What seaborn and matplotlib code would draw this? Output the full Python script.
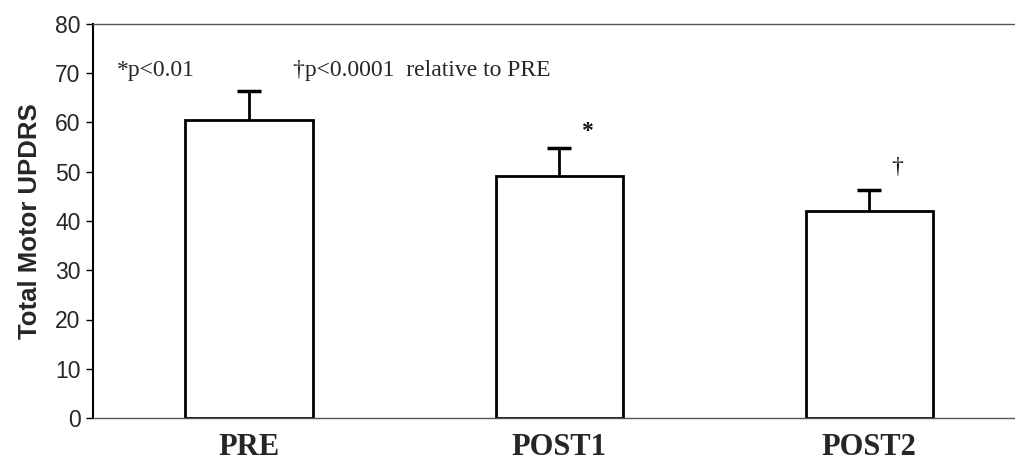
import matplotlib
matplotlib.use("Agg")
import matplotlib.pyplot as plt
import seaborn as sns
import numpy as np
import pandas as pd

# Total motor UPDRS at each assessment (mean and upper error)
categories = ["PRE", "POST1", "POST2"]
means = [60.6, 49.1, 42.0]
errors = [5.7, 5.8, 4.2]
markers = ["", "*", "\u2020"]

sns.set_style("white")

df = pd.DataFrame({"visit": categories, "score": means})

fig = plt.figure(figsize=(10.15, 4.63), dpi=100)
ax = fig.add_axes([93 / 1015, 45 / 463, 1 - 93 / 1015, 394 / 463])

sns.barplot(data=df, x="visit", y="score", color="white", edgecolor="black",
            linewidth=2.0, width=0.41, errorbar=None, saturation=1, ax=ax)

xs = np.arange(len(categories))
eb = ax.errorbar(xs, means, yerr=[np.zeros(len(means)), errors], fmt="none",
                 ecolor="black", elinewidth=2.0, capsize=8.5, capthick=2.5,
                 zorder=3)
# one-sided bars: keep only the upper caps
eb[1][0].set_visible(False)

# significance markers beside the error bars
for x, m, e, mk in zip(xs, means, errors, markers):
    if mk:
        off = 3.2 if mk == "*" else 4.6
        ax.text(x + 0.09, m + e + off, mk, ha="center", va="center",
                fontsize=17, family="Liberation Serif", color="#111111",
                fontweight="bold" if mk == "*" else "normal")

X0 = -0.503
PX = 310.0
ax.text(X0 + (117 - 93) / PX, 69.5, "*p<0.01", fontsize=17,
        family="Liberation Serif", va="baseline", ha="left")
ax.text(X0 + (293 - 93) / PX, 69.5, "\u2020p<0.0001  relative to PRE",
        fontsize=17, family="Liberation Serif", va="baseline", ha="left")

ax.set_xlim(X0, 2.47)
ax.set_ylim(0, 80)
ax.set_yticks(np.arange(0, 81, 10))
ax.tick_params(axis="y", length=5, width=1, color="black", pad=4,
               labelsize=16.5, left=True)
ax.tick_params(axis="x", length=0, pad=11)
for lab in ax.get_yticklabels():
    lab.set_family("Liberation Sans")
for lab in ax.get_xticklabels():
    lab.set_family("Liberation Serif")
    lab.set_fontweight("bold")
    lab.set_fontsize(22)

ax.set_xlabel("")
ax.set_ylabel("Total Motor UPDRS", family="Liberation Sans", fontweight="bold",
              fontsize=18.5, labelpad=9)

ax.spines["right"].set_visible(False)
ax.spines["left"].set_color("black")
ax.spines["left"].set_linewidth(1.5)
ax.spines["top"].set_color("#555555")
ax.spines["top"].set_linewidth(1.0)
ax.spines["bottom"].set_color("#555555")
ax.spines["bottom"].set_linewidth(1.0)

fig.savefig("out.png", dpi=100, facecolor="white")
